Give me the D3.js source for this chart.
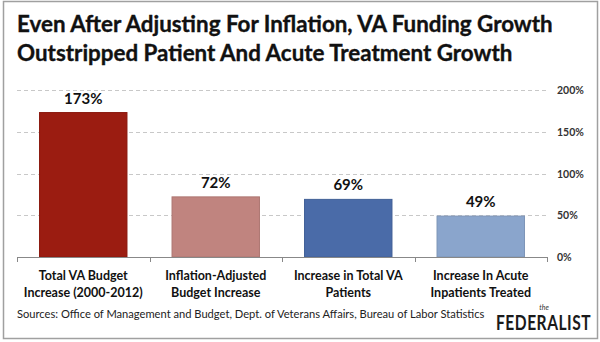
<!DOCTYPE html>
<html>
<head>
<meta charset="utf-8">
<script src="https://cdn.jsdelivr.net/npm/d3@7"></script>
<style>
  body { margin: 0; background: #fff; }
  text { font-family: Lato, "Open Sans", sans-serif; }
</style>
</head>
<body>
<div id="container"></div>
<script>
// Chart data
const categories = [
  ["Total VA Budget", "Increase (2000-2012)"],
  ["Inflation-Adjusted", "Budget Increase"],
  ["Increase in Total VA", "Patients"],
  ["Increase In Acute", "Inpatients Treated"]
];
const values = [173, 72, 69, 49];
const barColors = ["#9b1c11", "#c0847f", "#4a6ba8", "#8aa5cc"];
const yTicks = [0, 50, 100, 150, 200];

const width = 600;
const height = 342;

const svg = d3.select("#container")
    .append("svg")
    .attr("width", width)
    .attr("height", height);

// Outer frame
svg.append("rect")
    .attr("x", 3.5).attr("y", 1.5)
    .attr("width", 594).attr("height", 337)
    .attr("fill", "none")
    .attr("stroke", "#a0a0a0")
    .attr("stroke-width", 1.5);

// Title, sized so the first line fills its width
const titleLines = [
  "Even After Adjusting For Inflation, VA Funding Growth",
  "Outstripped Patient And Acute Treatment Growth"
];
const title = svg.append("g")
    .attr("font-weight", "bold")
    .attr("fill", "#111")
    .attr("stroke", "#111")
    .attr("stroke-width", 0.35);
const t1 = title.append("text").attr("x", 17).attr("y", 32).attr("font-size", 20).text(titleLines[0]);
const t2 = title.append("text").attr("x", 17).attr("y", 61).attr("font-size", 20).text(titleLines[1]);
const fs = 20 * 536 / t1.node().getComputedTextLength();
t1.attr("font-size", fs);
t2.attr("font-size", fs);

// Scales
const x = d3.scaleBand()
    .domain(d3.range(categories.length))
    .range([17, 547])
    .paddingInner(0.34)
    .paddingOuter(0.17);

const y = d3.scaleLinear()
    .domain([0, 200])
    .range([257, 90]);

// Gridlines
svg.append("g")
    .selectAll("line")
    .data(yTicks.filter(d => d > 0))
    .join("line")
    .attr("x1", 17).attr("x2", 547)
    .attr("y1", d => Math.round(y(d)) + 0.5)
    .attr("y2", d => Math.round(y(d)) + 0.5)
    .attr("stroke", "#c8c8c8")
    .attr("stroke-dasharray", "4,3");

// Right axis labels
svg.append("g")
    .selectAll("text")
    .data(yTicks)
    .join("text")
    .attr("x", 557)
    .attr("y", d => y(d) + 4)
    .attr("font-size", 10.5)
    .attr("font-weight", "bold")
    .attr("fill", "#333")
    .text(d => d + "%");

// Bars
svg.append("g")
    .selectAll("rect")
    .data(values)
    .join("rect")
    .attr("x", (d, i) => x(i))
    .attr("y", d => y(d))
    .attr("width", x.bandwidth())
    .attr("height", d => y(0) - y(d))
    .attr("fill", (d, i) => barColors[i])
    .attr("stroke", (d, i) => d3.color(barColors[i]).darker(0.3))
    .attr("stroke-width", 1);

// Value labels
svg.append("g")
    .selectAll("text")
    .data(values)
    .join("text")
    .attr("x", (d, i) => x(i) + x.bandwidth() / 2)
    .attr("y", d => y(d) - 9)
    .attr("text-anchor", "middle")
    .attr("font-size", 15)
    .attr("font-weight", "bold")
    .attr("fill", "#111")
    .text(d => d + "%");

// Baseline with tick marks at category boundaries
const step = x.step();
svg.append("line")
    .attr("x1", 17).attr("x2", 547)
    .attr("y1", 257.5).attr("y2", 257.5)
    .attr("stroke", "#888");
svg.append("g")
    .selectAll("line")
    .data(d3.range(categories.length + 1))
    .join("line")
    .attr("x1", d => Math.round(17 + d * step) + 0.5)
    .attr("x2", d => Math.round(17 + d * step) + 0.5)
    .attr("y1", 257).attr("y2", 262)
    .attr("stroke", "#888");

// Category labels
const catG = svg.append("g")
    .attr("font-weight", "bold")
    .attr("fill", "#111");
const cats = catG.selectAll("text")
    .data(categories)
    .join("text")
    .attr("text-anchor", "middle")
    .attr("font-size", 12.5);
cats.selectAll("tspan")
    .data(d => d)
    .join("tspan")
    .attr("y", (d, j) => 280 + j * 16.5)
    .text(d => d);
cats.each(function(d, i) {
  d3.select(this).selectAll("tspan").attr("x", x(i) + x.bandwidth() / 2);
});

// Sources
const src = svg.append("text")
    .attr("x", 17).attr("y", 318)
    .attr("font-size", 11)
    .attr("fill", "#222")
    .text("Sources: Office of Management  and Budget, Dept. of Veterans Affairs, Bureau of Labor Statistics");
src.attr("font-size", 11 * 468 / src.node().getComputedTextLength());

// Logo
svg.append("text")
    .attr("x", 544).attr("y", 310)
    .attr("text-anchor", "middle")
    .attr("font-size", 7)
    .attr("font-style", "italic")
    .attr("font-family", "DejaVu Serif, serif")
    .attr("fill", "#333")
    .text("the");
const logo = svg.append("text")
    .attr("transform", "translate(496,330) scale(1,1.3)")
    .attr("font-size", 16)
    .attr("font-weight", "bold")
    .attr("font-family", "DejaVu Sans Condensed, sans-serif")
    .attr("letter-spacing", 0.5)
    .attr("fill", "#1a1a1a")
    .text("FEDERALIST");
logo.attr("font-size", 16 * 95 / logo.node().getComputedTextLength());
</script>
</body>
</html>
